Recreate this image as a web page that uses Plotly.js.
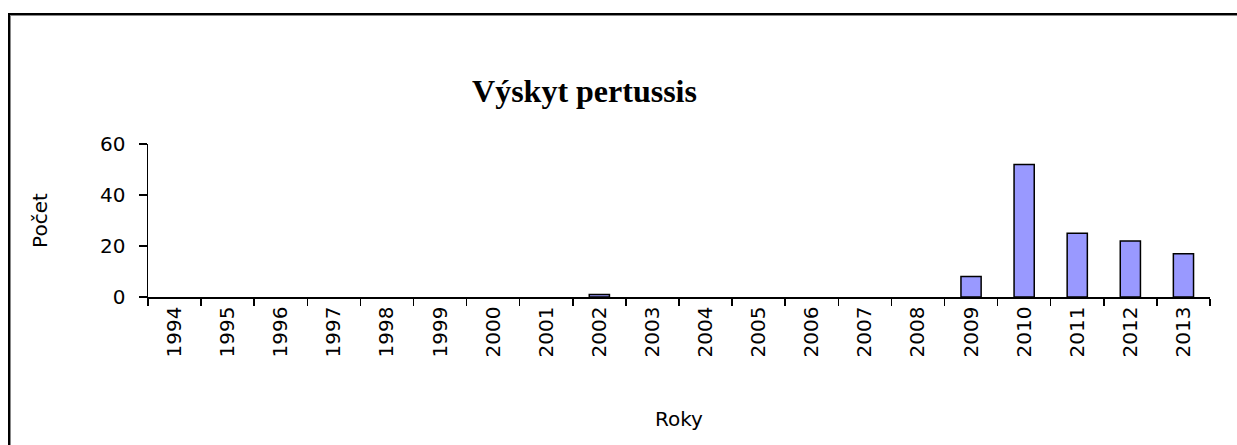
<!DOCTYPE html>
<html>
<head>
<meta charset="utf-8">
<script src="https://cdn.plot.ly/plotly-3.0.1.min.js"></script>
<style>
    body { margin: 0; background: #fff; }
    #chart { position: absolute; left: 0; top: 0; width: 1237px; height: 445px; }
    #frame { position: absolute; left: 8px; top: 13px; width: 1260px; height: 460px;
             border: 2px solid #000; box-shadow: 1px 1px 0 #888 inset; pointer-events: none; }
</style>
</head>
<body>
<div id="chart"></div>
<div id="frame"></div>
<script>
// Roky a počet případů
const years = ["1994", "1995", "1996", "1997", "1998", "1999", "2000", "2001", "2002", "2003",
               "2004", "2005", "2006", "2007", "2008", "2009", "2010", "2011", "2012", "2013"];
const counts = [0, 0, 0, 0, 0, 0, 0, 0, 1, 0, 0, 0, 0, 0, 0, 8, 52, 25, 22, 17];
const y_ticks = [0, 20, 40, 60];

const tick_font = { family: "DejaVu Sans, Verdana, sans-serif", size: 20, color: "#000" };

// no outline for empty years
let outline = counts.map(v => v > 0 ? 1.5 : 0);

let trace = {
    type: "bar",
    x: years,
    y: counts,
    marker: { color: "#9999ff", line: { color: "#000", width: outline } },
    hoverinfo: "x+y",
};

let layout = {
    width: 1237,
    height: 445,
    margin: { l: 148, r: 27, t: 144, b: 148 },
    paper_bgcolor: "#fff",
    plot_bgcolor: "#fff",
    showlegend: false,
    bargap: 0.62,
    title: {
        text: "<b>Výskyt pertussis</b>",
        font: { family: "Liberation Serif, Times New Roman, serif", size: 32, color: "#000" },
        xref: "container", x: 0.4725, xanchor: "center",
        yref: "container", y: 0.795, yanchor: "middle",
    },
    xaxis: {
        type: "category",
        tickangle: -90,
        tickson: "boundaries",
        ticks: "outside", ticklen: 7, tickwidth: 1.5, tickcolor: "#000",
        showline: true, linecolor: "#000", linewidth: 1.5,
        showgrid: false, zeroline: false,
        tickfont: tick_font,
        title: { text: "Roky", font: tick_font, standoff: 55 },
    },
    yaxis: {
        range: [0, 60],
        tickvals: y_ticks,
        ticks: "outside", ticklen: 8, tickwidth: 1.5, tickcolor: "#000",
        ticklabelstandoff: 9,
        showline: true, linecolor: "#000", linewidth: 1.5,
        showgrid: false, zeroline: false,
        tickfont: tick_font,
        title: { text: "Počet", font: tick_font, standoff: 47 },
    },
};

Plotly.newPlot("chart", [trace], layout, { staticPlot: true });
</script>
</body>
</html>
